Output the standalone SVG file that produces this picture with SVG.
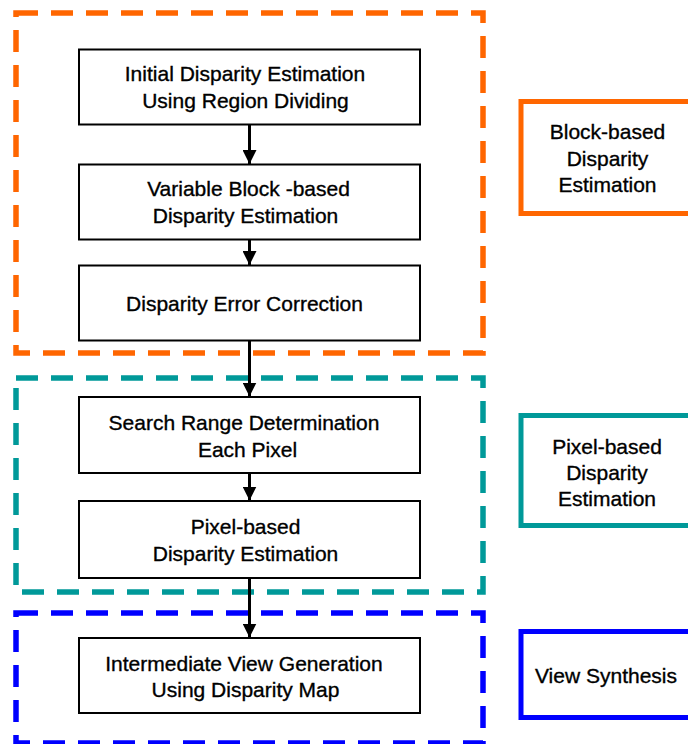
<svg xmlns="http://www.w3.org/2000/svg" width="688" height="744" viewBox="0 0 688 744">
<style>
  .grp { fill: none; stroke-width: 5.5; stroke-dasharray: 22 13; }
  .lbl { fill: #fff; stroke-width: 5; }
  .node rect { fill: #fff; stroke: #000; stroke-width: 2; }
  text { font-family: "Liberation Sans", Arial, sans-serif; fill: #000; stroke: #000; stroke-width: 0.35; text-anchor: middle; }
  .nt { font-size: 21px; }
  .lt { font-size: 21px; }
  .conn line { stroke: #000; stroke-width: 3; }
</style>
<defs>
  <marker id="ah" markerWidth="14" markerHeight="14" viewBox="0 0 14 14" refX="14" refY="7" orient="auto" markerUnits="userSpaceOnUse">
    <path d="M0,0 L14,7 L0,14 Z" fill="#000"/>
  </marker>
</defs>
<rect width="688" height="744" fill="#fff"/>
<g id="group-block">
  <path class="grp" stroke="#FF6600" d="M16,13 H483 V353 H16 Z"/>
</g>
<g id="group-pixel">
  <path class="grp" stroke="#009999" d="M16,378 H483 V592 H16 Z"/>
</g>
<g id="group-view">
  <path class="grp" stroke="#0000FF" d="M16,613 H483 V743 H16 Z"/>
</g>
<g id="label-block">
  <rect class="lbl" stroke="#FF6600" x="521" y="101.5" width="180" height="112"/>
  <text class="lt" x="607.5" y="139">Block-based</text>
  <text class="lt" x="607.5" y="165.5">Disparity</text>
  <text class="lt" x="607.5" y="192">Estimation</text>
</g>
<g id="label-pixel">
  <rect class="lbl" stroke="#009999" x="521" y="415.5" width="180" height="110"/>
  <text class="lt" x="607" y="454">Pixel-based</text>
  <text class="lt" x="607" y="480">Disparity</text>
  <text class="lt" x="607" y="506">Estimation</text>
</g>
<g id="label-view">
  <rect class="lbl" stroke="#0000FF" x="521" y="631.5" width="180" height="86"/>
  <text class="lt" x="606" y="683">View Synthesis</text>
</g>
<g id="n1" class="node">
  <rect x="79" y="49.5" width="341" height="75"/>
  <text class="nt" x="245" y="81">Initial Disparity Estimation</text>
  <text class="nt" x="245.5" y="108">Using Region Dividing</text>
</g>
<g id="n2" class="node">
  <rect x="79" y="164.5" width="341" height="75"/>
  <text class="nt" x="248.5" y="196">Variable Block -based</text>
  <text class="nt" x="245.5" y="223">Disparity Estimation</text>
</g>
<g id="n3" class="node">
  <rect x="79" y="265.5" width="341" height="75"/>
  <text class="nt" x="244.5" y="311">Disparity Error Correction</text>
</g>
<g id="n4" class="node">
  <rect x="79" y="397" width="341" height="76"/>
  <text class="nt" x="244" y="430">Search Range Determination</text>
  <text class="nt" x="247.5" y="457">Each Pixel</text>
</g>
<g id="n5" class="node">
  <rect x="79" y="501" width="341" height="77"/>
  <text class="nt" x="245.5" y="534">Pixel-based</text>
  <text class="nt" x="245.5" y="561">Disparity Estimation</text>
</g>
<g id="n6" class="node">
  <rect x="79" y="638" width="341" height="75"/>
  <text class="nt" x="244" y="671">Intermediate View Generation</text>
  <text class="nt" x="245.5" y="697">Using Disparity Map</text>
</g>
<g id="connectors" class="conn">
  <line x1="249.5" y1="124.5" x2="249.5" y2="164" marker-end="url(#ah)"/>
  <line x1="249.5" y1="239.5" x2="249.5" y2="265" marker-end="url(#ah)"/>
  <line x1="249.5" y1="340.5" x2="249.5" y2="396.5" marker-end="url(#ah)"/>
  <line x1="249.5" y1="473" x2="249.5" y2="500.5" marker-end="url(#ah)"/>
  <line x1="249.5" y1="578" x2="249.5" y2="637.5" marker-end="url(#ah)"/>
</g>
</svg>
